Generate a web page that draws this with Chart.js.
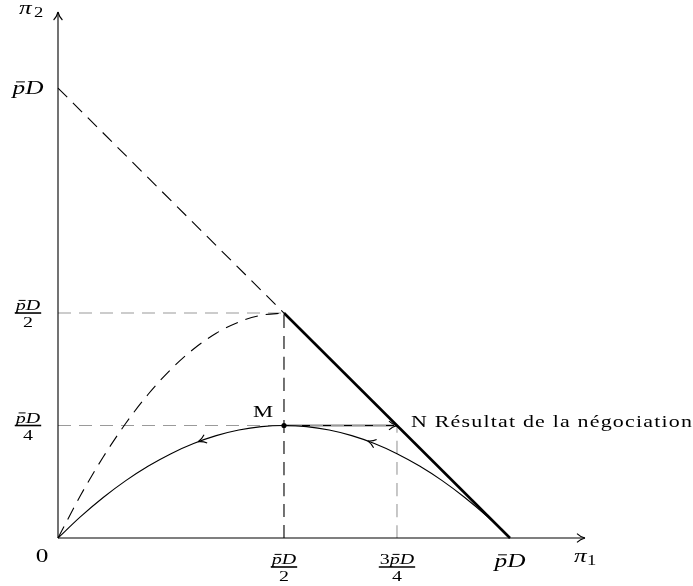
<!DOCTYPE html>
<html><head><meta charset="utf-8">
<script src="https://cdn.jsdelivr.net/npm/chart.js@4/dist/chart.umd.min.js"></script>
<style>html,body{margin:0;padding:0;background:#fff}#wrap{width:693px;height:586px}</style>
</head><body><div id="wrap"><canvas id="c" width="693" height="586"></canvas></div>
<script>
// Tick labels (p̄D = 1)
const xTickValues = [0.5, 0.75, 1];
const xTickLabels = ['p̄D/2', '3p̄D/4', 'p̄D'];
const yTickValues = [1, 0.5, 0.25];
const yTickLabels = ['p̄D', 'p̄D/2', 'p̄D/4'];
const xAxisTitle = ['π', '1'];
const yAxisTitle = ['π', '2'];
const originLabel = '0';

// Solid curve (from 0 to p̄D, peak at M)
const solidCurveX = [0,0.05,0.1,0.15,0.2,0.25,0.3,0.35,0.4,0.45,0.5,0.55,0.6,0.65,0.7,0.75,0.8,0.85,0.9,0.95,1];
const solidCurveY = [0,0.0475,0.09,0.1275,0.16,0.1875,0.21,0.2275,0.24,0.2475,0.25,0.2475,0.24,0.2275,0.21,0.1875,0.16,0.1275,0.09,0.0475,0];
// Dashed curve (from 0 to p̄D/2)
const dashedCurveX = [0,0.05,0.1,0.15,0.2,0.25,0.3,0.35,0.4,0.45,0.5];
const dashedCurveY = [0,0.095,0.18,0.255,0.32,0.375,0.42,0.455,0.48,0.495,0.5];
// Dashed line from (0, p̄D) to (p̄D/2, p̄D/2)
const budgetX = [0, 0.5];
const budgetY = [1, 0.5];
// Thick frontier
const frontierX = [0.5, 1];
const frontierY = [0.5, 0];
// Points
const pointM = [0.5, 0.25];
const pointN = [0.75, 0.25];
const pointLabels = ['M', 'N Résultat de la négociation'];
// Arrow positions on the solid curve and local slope there
const curveArrowX = [0.31, 0.685];
const curveArrowY = [0.2139, 0.2158];
const curveArrowSlope = [0.38, -0.37];

const zip = (xs, ys) => xs.map((x, i) => ({x, y: ys[i]}));
const GRAY = '#9a9a9a';
const DASH = [13, 8];

const datasets = [
  {data: zip(solidCurveX, solidCurveY), borderColor: '#000', borderWidth: 1.1},
  {data: zip(dashedCurveX, dashedCurveY), borderColor: '#000', borderWidth: 1.1, borderDash: DASH},
  {data: zip(budgetX, budgetY), borderColor: '#000', borderWidth: 1.1, borderDash: DASH},
  {data: zip(frontierX, frontierY), borderColor: '#000', borderWidth: 2.6},
  {data: [{x: 0, y: yTickValues[1]}, {x: xTickValues[0], y: yTickValues[1]}], borderColor: GRAY, borderWidth: 1.1, borderDash: DASH},
  {data: [{x: 0, y: yTickValues[2]}, {x: xTickValues[1], y: yTickValues[2]}], borderColor: GRAY, borderWidth: 1.1, borderDash: DASH},
  {data: [{x: xTickValues[1], y: 0}, {x: xTickValues[1], y: yTickValues[2]}], borderColor: GRAY, borderWidth: 1.1, borderDash: DASH},
  {data: [{x: xTickValues[0], y: 0}, {x: xTickValues[0], y: yTickValues[1]}], borderColor: '#000', borderWidth: 1.1, borderDash: DASH},
  {data: [{x: pointM[0], y: pointM[1]}, {x: pointN[0], y: pointN[1]}], borderColor: '#000', borderWidth: 1.3},
].map(d => Object.assign({showLine: true, pointRadius: 0, fill: false, clip: false, tension: 0.4, cubicInterpolationMode: 'monotone'}, d));
datasets.push({data: [{x: pointM[0], y: pointM[1]}], showLine: false, pointRadius: 2.6, pointBackgroundColor: '#000', pointBorderWidth: 0, clip: false});

function arrowHead(ctx, x, y, ang, size) {
  ctx.save();
  ctx.translate(x, y); ctx.rotate(ang);
  ctx.beginPath();
  ctx.moveTo(0, 0);
  ctx.quadraticCurveTo(-size*0.6, -size*0.15, -size, -size*0.55);
  ctx.moveTo(0, 0);
  ctx.quadraticCurveTo(-size*0.6, size*0.15, -size, size*0.55);
  ctx.lineWidth = 1.1; ctx.strokeStyle = '#000';
  ctx.stroke();
  ctx.restore();
}

const SERIF = '"Liberation Serif", "DejaVu Serif", serif';
const SX = 1.33;

function stretchText(ctx, text, x, y, font, align, spacing) {
  ctx.save();
  ctx.font = font;
  ctx.fillStyle = '#000';
  ctx.textBaseline = 'alphabetic';
  if (spacing) ctx.letterSpacing = spacing + 'px';
  const w = ctx.measureText(text).width * SX;
  let left = x;
  if (align === 'center') left = x - w/2;
  else if (align === 'right') left = x - w;
  ctx.translate(left, y);
  ctx.scale(SX, 1);
  ctx.textAlign = 'left';
  ctx.fillText(text, 0, 0);
  ctx.restore();
  return w;
}

function drawMath(ctx, str, cx, baseline, size) {
  const hasBar = str.includes('̄');
  const parts = [...str.replace('̄', '')];
  const fonts = parts.map(ch => /[0-9]/.test(ch) ? `${size}px ${SERIF}` : `italic ${size}px ${SERIF}`);
  const widths = parts.map((ch, i) => { ctx.font = fonts[i]; return ctx.measureText(ch).width * SX; });
  const total = widths.reduce((a, b) => a + b, 0);
  let x = cx - total/2;
  parts.forEach((ch, i) => {
    stretchText(ctx, ch, x, baseline, fonts[i], 'left');
    if (hasBar && ch === 'p') {
      ctx.save();
      ctx.beginPath();
      ctx.moveTo(x + widths[i]*0.28, baseline - size*0.64);
      ctx.lineTo(x + widths[i]*0.98, baseline - size*0.64);
      ctx.lineWidth = 1; ctx.strokeStyle = '#000'; ctx.stroke();
      ctx.restore();
    }
    x += widths[i];
  });
  return total;
}

function drawFraction(ctx, label, cx, barY, size) {
  const [num, den] = label.split('/');
  const w = drawMath(ctx, num, cx, barY - 3, size);
  drawMath(ctx, den, cx, barY + 14, size);
  ctx.save();
  ctx.beginPath();
  ctx.moveTo(cx - w/2 - 1, barY); ctx.lineTo(cx + w/2 + 1, barY);
  ctx.lineWidth = 1.6; ctx.strokeStyle = '#000'; ctx.stroke();
  ctx.restore();
}

const overlay = {
  id: 'overlay',
  afterDatasetsDraw(chart) {
    const ctx = chart.ctx;
    const xs = chart.scales.x, ys = chart.scales.y;
    const x0 = xs.getPixelForValue(0), y0 = ys.getPixelForValue(0);
    const ca = chart.chartArea;
    // axes
    ctx.save();
    ctx.strokeStyle = '#000'; ctx.lineWidth = 1.1;
    ctx.beginPath();
    ctx.moveTo(x0, y0); ctx.lineTo(ca.right, y0);
    ctx.moveTo(x0, y0); ctx.lineTo(x0, ca.top);
    ctx.stroke();
    ctx.restore();
    arrowHead(ctx, ca.right, y0, 0, 8);
    arrowHead(ctx, x0, ca.top, -Math.PI/2, 8);
    arrowHead(ctx, xs.getPixelForValue(pointN[0]), ys.getPixelForValue(pointN[1]), 0, 8);
    // arrows on the curve, travelling toward M
    const ux = xs.getPixelForValue(1) - xs.getPixelForValue(0);
    const uy = ys.getPixelForValue(1) - ys.getPixelForValue(0);
    curveArrowX.forEach((xv, i) => {
      const px = xs.getPixelForValue(xv), py = ys.getPixelForValue(curveArrowY[i]);
      const ang = Math.atan2(-curveArrowSlope[i] * uy, -ux);
      arrowHead(ctx, px, py, ang, 8);
    });
    // tick labels
    xTickValues.forEach((v, i) => {
      const px = xs.getPixelForValue(v);
      if (xTickLabels[i].includes('/')) drawFraction(ctx, xTickLabels[i], px, y0 + 29, 15);
      else drawMath(ctx, xTickLabels[i], px, y0 + 29, 19);
    });
    yTickValues.forEach((v, i) => {
      const py = ys.getPixelForValue(v);
      if (yTickLabels[i].includes('/')) drawFraction(ctx, yTickLabels[i], x0 - 30, py, 15);
      else drawMath(ctx, yTickLabels[i], x0 - 30, py + 6, 19);
    });
    // axis titles
    stretchText(ctx, xAxisTitle[0], ca.right - 11, y0 + 24, `italic 19px ${SERIF}`, 'left');
    stretchText(ctx, xAxisTitle[1], ca.right + 2, y0 + 27, `14px ${SERIF}`, 'left');
    stretchText(ctx, yAxisTitle[0], x0 - 39, 14, `italic 19px ${SERIF}`, 'left');
    stretchText(ctx, yAxisTitle[1], x0 - 24, 17, `14px ${SERIF}`, 'left');
    stretchText(ctx, originLabel, x0 - 16, y0 + 24, `19px ${SERIF}`, 'center');
    // point labels
    stretchText(ctx, pointLabels[0], xs.getPixelForValue(pointM[0]) - 11, ys.getPixelForValue(pointM[1]) - 9, `17px ${SERIF}`, 'right');
    stretchText(ctx, pointLabels[1], xs.getPixelForValue(pointN[0]) + 14, ys.getPixelForValue(pointN[1]) + 1, `16.5px ${SERIF}`, 'left', 0.9);
  }
};

new Chart(document.getElementById('c'), {
  type: 'scatter',
  data: {datasets},
  options: {
    responsive: false,
    animation: false,
    events: [],
    layout: {padding: {left: 58, right: 108, top: 12, bottom: 48}},
    plugins: {legend: {display: false}, tooltip: {enabled: false}},
    scales: {
      x: {type: 'linear', min: 0, max: 1.166, display: false},
      y: {type: 'linear', min: 0, max: 1.169, display: false}
    }
  },
  plugins: [overlay]
});
</script>
</body></html>
